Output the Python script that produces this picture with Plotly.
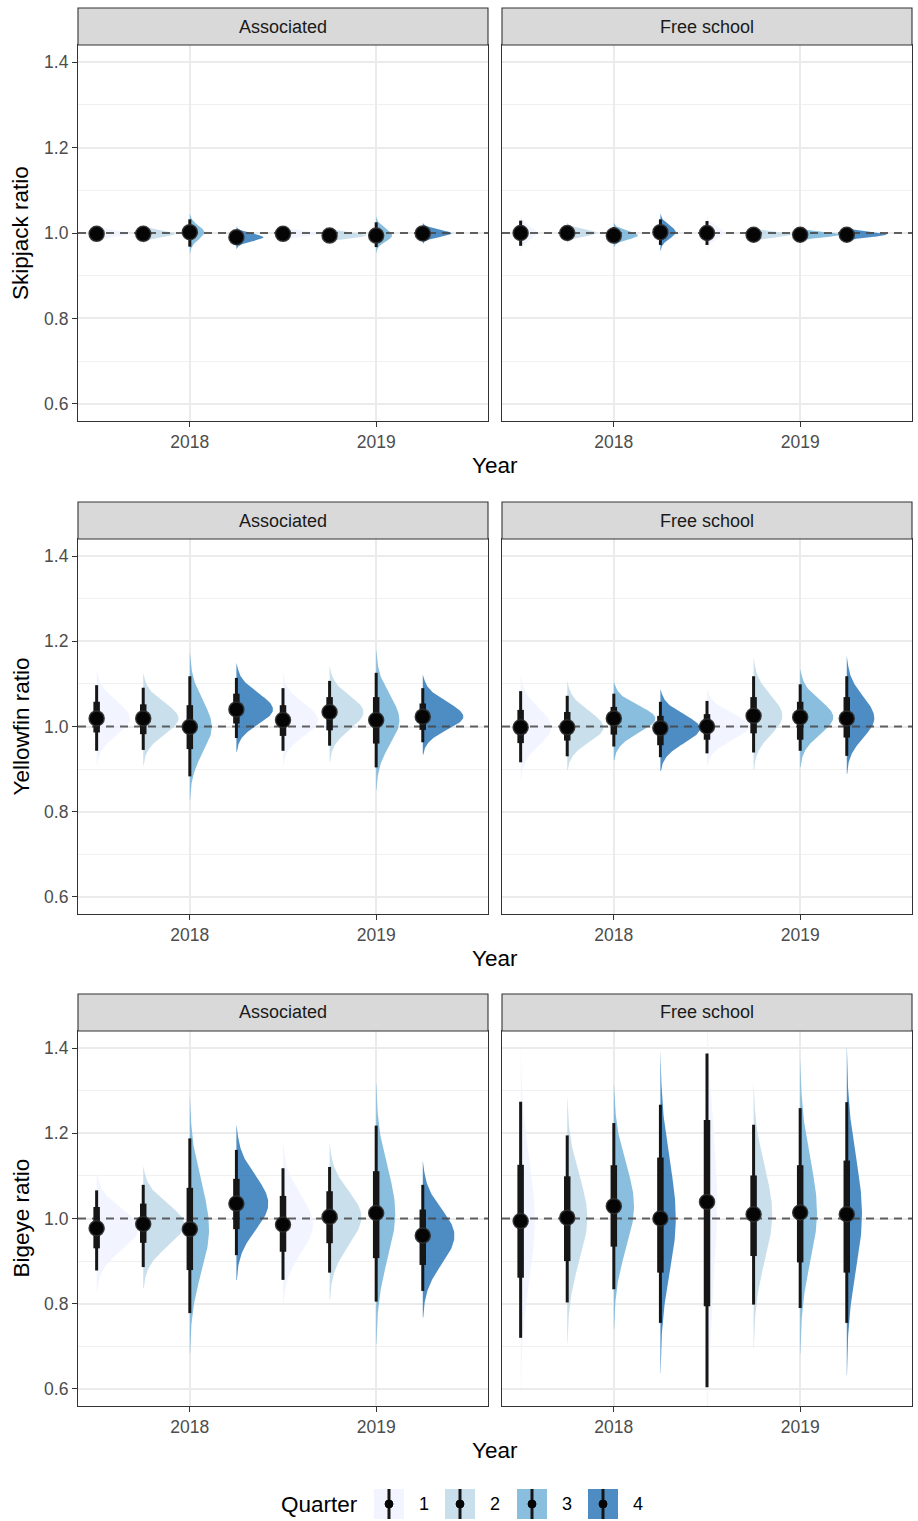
import numpy as np
import plotly.graph_objects as go

# ---------------- data ----------------
YEARS = [2018, 2018, 2018, 2018, 2019, 2019, 2019, 2019]
QUARTERS = [1, 2, 3, 4, 1, 2, 3, 4]
SPECIES = ["Skipjack", "Yellowfin", "Bigeye"]
SET_TYPES = ["Associated", "Free school"]
YTICKS = [0.6, 0.8, 1.0, 1.2, 1.4]
YTICK_LABELS = ["0.6", "0.8", "1.0", "1.2", "1.4"]
XTICKS = [2018, 2019]
XTICK_LABELS = ["2018", "2019"]
REF_RATIO = 1.0

# Skipjack - Associated
SKJ_ASSOC_MED = [0.998, 0.998, 1.002, 0.990, 0.998, 0.994, 0.994, 0.999]
SKJ_ASSOC_LO66 = [0.992, 0.991, 0.988, 0.983, 0.992, 0.989, 0.982, 0.993]
SKJ_ASSOC_HI66 = [1.004, 1.004, 1.016, 0.997, 1.004, 1.000, 1.008, 1.006]
SKJ_ASSOC_LO95 = [0.985, 0.983, 0.968, 0.972, 0.986, 0.982, 0.967, 0.983]
SKJ_ASSOC_HI95 = [1.012, 1.012, 1.032, 1.006, 1.011, 1.007, 1.025, 1.015]
# Skipjack - Free school
SKJ_FREE_MED = [1.000, 1.000, 0.994, 1.002, 1.000, 0.996, 0.996, 0.996]
SKJ_FREE_LO66 = [0.986, 0.993, 0.986, 0.990, 0.988, 0.991, 0.991, 0.991]
SKJ_FREE_HI66 = [1.014, 1.007, 1.003, 1.016, 1.012, 1.001, 1.001, 1.002]
SKJ_FREE_LO95 = [0.970, 0.985, 0.976, 0.972, 0.972, 0.984, 0.985, 0.985]
SKJ_FREE_HI95 = [1.029, 1.016, 1.014, 1.032, 1.028, 1.008, 1.007, 1.008]
# Yellowfin - Associated
YFT_ASSOC_MED = [1.019, 1.019, 0.999, 1.040, 1.015, 1.034, 1.015, 1.023]
YFT_ASSOC_LO66 = [0.986, 0.982, 0.947, 1.007, 0.978, 0.991, 0.960, 0.992]
YFT_ASSOC_HI66 = [1.058, 1.052, 1.050, 1.077, 1.050, 1.069, 1.069, 1.054]
YFT_ASSOC_LO95 = [0.943, 0.945, 0.883, 0.973, 0.943, 0.955, 0.904, 0.963]
YFT_ASSOC_HI95 = [1.097, 1.091, 1.118, 1.114, 1.090, 1.107, 1.126, 1.090]
# Yellowfin - Free school
YFT_FREE_MED = [0.998, 0.998, 1.019, 0.996, 1.000, 1.025, 1.022, 1.019]
YFT_FREE_LO66 = [0.961, 0.967, 0.981, 0.956, 0.969, 0.984, 0.969, 0.974]
YFT_FREE_HI66 = [1.039, 1.034, 1.046, 1.025, 1.029, 1.069, 1.058, 1.069]
YFT_FREE_LO95 = [0.916, 0.930, 0.953, 0.928, 0.937, 0.939, 0.943, 0.931]
YFT_FREE_HI95 = [1.083, 1.072, 1.077, 1.058, 1.060, 1.118, 1.099, 1.118]
# Bigeye - Associated
BET_ASSOC_MED = [0.977, 0.987, 0.975, 1.035, 0.986, 1.004, 1.013, 0.960]
BET_ASSOC_LO66 = [0.930, 0.943, 0.879, 0.975, 0.922, 0.942, 0.907, 0.891]
BET_ASSOC_HI66 = [1.027, 1.035, 1.072, 1.093, 1.053, 1.064, 1.111, 1.021]
BET_ASSOC_LO95 = [0.878, 0.886, 0.778, 0.914, 0.856, 0.873, 0.805, 0.830]
BET_ASSOC_HI95 = [1.066, 1.079, 1.188, 1.161, 1.118, 1.121, 1.218, 1.079]
# Bigeye - Free school
BET_FREE_MED = [0.994, 1.002, 1.029, 1.000, 1.039, 1.010, 1.014, 1.010]
BET_FREE_LO66 = [0.861, 0.900, 0.934, 0.873, 0.794, 0.912, 0.897, 0.873]
BET_FREE_HI66 = [1.126, 1.099, 1.125, 1.143, 1.231, 1.101, 1.125, 1.136]
BET_FREE_LO95 = [0.720, 0.803, 0.834, 0.755, 0.604, 0.798, 0.790, 0.755]
BET_FREE_HI95 = [1.274, 1.195, 1.224, 1.267, 1.387, 1.220, 1.259, 1.273]

PANELS = [
    [(SKJ_ASSOC_MED, SKJ_ASSOC_LO66, SKJ_ASSOC_HI66, SKJ_ASSOC_LO95, SKJ_ASSOC_HI95),
     (SKJ_FREE_MED, SKJ_FREE_LO66, SKJ_FREE_HI66, SKJ_FREE_LO95, SKJ_FREE_HI95)],
    [(YFT_ASSOC_MED, YFT_ASSOC_LO66, YFT_ASSOC_HI66, YFT_ASSOC_LO95, YFT_ASSOC_HI95),
     (YFT_FREE_MED, YFT_FREE_LO66, YFT_FREE_HI66, YFT_FREE_LO95, YFT_FREE_HI95)],
    [(BET_ASSOC_MED, BET_ASSOC_LO66, BET_ASSOC_HI66, BET_ASSOC_LO95, BET_ASSOC_HI95),
     (BET_FREE_MED, BET_FREE_LO66, BET_FREE_HI66, BET_FREE_LO95, BET_FREE_HI95)],
]

# ---------------- styling ----------------
W, H = 918, 1521
FONT = "Liberation Sans, Arial, sans-serif"
QCOLORS = [(239, 243, 255), (189, 215, 231), (107, 174, 214), (33, 113, 181)]
ALPHA = 0.8
XRANGE = [2017.4, 2019.6]
YRANGE = [0.56, 1.44]
SLAB_MAX = 0.9 * 0.25
TAIL = 2.9

PANEL_X = [(78, 488), (502, 912)]
PANEL_TOP = [45, 539, 1031]
PANEL_BOT = [421, 914, 1406]
STRIP_H = 37


def px(x):
    return x / W


def py(y):
    return 1 - y / H


def rgba(c, a):
    return f"rgba({c[0]},{c[1]},{c[2]},{a})"


xpos = [y + (q - 1) / 4 - 0.5 for y, q in zip(YEARS, QUARTERS)]


def slab(m, lo95, hi95):
    sl = (m - lo95) / 1.96
    su = (hi95 - m) / 1.96
    ys = np.linspace(m - TAIL * sl, m + TAIL * su, 121)
    sig = np.where(ys < m, sl, su)
    d = 2 / (np.sqrt(2 * np.pi) * (sl + su)) * np.exp(-0.5 * ((ys - m) / sig) ** 2)
    return ys, d


fig = go.Figure()
layout = dict(
    width=W, height=H, margin=dict(l=0, r=0, t=0, b=0),
    paper_bgcolor="white", plot_bgcolor="white", showlegend=False,
    font=dict(family=FONT),
)
shapes = []
annotations = []

for r in range(3):
    slabs = {}
    peak = 0
    for c in range(2):
        med, lo66, hi66, lo95, hi95 = PANELS[r][c]
        for i in range(8):
            ys, d = slab(med[i], lo95[i], hi95[i])
            slabs[(c, i)] = (ys, d)
            peak = max(peak, d.max())
    scale = SLAB_MAX / peak

    for c in range(2):
        k = r * 2 + c + 1
        xa = "x" if k == 1 else f"x{k}"
        ya = "y" if k == 1 else f"y{k}"
        med, lo66, hi66, lo95, hi95 = PANELS[r][c]

        for i in range(8):
            ys, d = slabs[(c, i)]
            x0 = xpos[i]
            xs = np.concatenate([x0 + d * scale, np.full(len(ys), x0)])
            yy = np.concatenate([ys, ys[::-1]])
            col = QCOLORS[QUARTERS[i] - 1]
            fig.add_trace(go.Scatter(
                x=xs, y=yy, xaxis=xa, yaxis=ya, mode="lines", fill="toself",
                fillcolor=rgba(col, ALPHA), line=dict(width=0), hoverinfo="skip"))

        fig.add_trace(go.Scatter(
            x=XRANGE, y=[REF_RATIO, REF_RATIO], xaxis=xa, yaxis=ya, mode="lines",
            line=dict(color="rgba(70,70,70,0.85)", width=1.8, dash="8px,6px"), hoverinfo="skip"))

        tx, ty = [], []
        for i in range(8):
            tx += [xpos[i], xpos[i], None]
            ty += [lo95[i], hi95[i], None]
        fig.add_trace(go.Scatter(x=tx, y=ty, xaxis=xa, yaxis=ya, mode="lines",
                                 line=dict(color="#161616", width=3), hoverinfo="skip"))
        tx, ty = [], []
        for i in range(8):
            tx += [xpos[i], xpos[i], None]
            ty += [lo66[i], hi66[i], None]
        fig.add_trace(go.Scatter(x=tx, y=ty, xaxis=xa, yaxis=ya, mode="lines",
                                 line=dict(color="#161616", width=6.5), hoverinfo="skip"))
        fig.add_trace(go.Scatter(x=xpos, y=med, xaxis=xa, yaxis=ya, mode="markers",
                                 marker=dict(color="#050505", size=15,
                                             line=dict(color="rgba(45,45,45,0.9)", width=1.5)),
                                 hoverinfo="skip"))

        x0p, x1p = PANEL_X[c]
        common = dict(showline=True, mirror=True, linecolor="#333333", linewidth=1.1,
                      zeroline=False, showgrid=True, gridcolor="#EBEBEB", fixedrange=True)
        layout["xaxis" if k == 1 else f"xaxis{k}"] = dict(
            domain=[px(x0p), px(x1p)], range=XRANGE, anchor=ya,
            tickvals=XTICKS, ticktext=XTICK_LABELS, gridwidth=2,
            ticks="outside", ticklen=5, tickwidth=1.1, tickcolor="#333333",
            tickfont=dict(size=17.5, color="#4D4D4D", family=FONT), **common)
        layout["yaxis" if k == 1 else f"yaxis{k}"] = dict(
            domain=[py(PANEL_BOT[r]), py(PANEL_TOP[r])], range=YRANGE, anchor=xa,
            tickvals=YTICKS, ticktext=YTICK_LABELS, gridwidth=2,
            minor=dict(tickvals=[0.7, 0.9, 1.1, 1.3], showgrid=True, gridcolor="#F0F0F0",
                       gridwidth=1.1, ticks=""),
            ticks="outside" if c == 0 else "", ticklen=5, tickwidth=1.1, tickcolor="#333333",
            showticklabels=(c == 0),
            tickfont=dict(size=17.5, color="#4D4D4D", family=FONT), **common)

        shapes.append(dict(type="rect", xref="paper", yref="paper",
                           x0=px(x0p), x1=px(x1p), y0=py(PANEL_TOP[r]), y1=py(PANEL_TOP[r] - STRIP_H),
                           fillcolor="#D9D9D9", line=dict(color="#333333", width=1.1), layer="above"))
        annotations.append(dict(text=SET_TYPES[c], xref="paper", yref="paper",
                                x=px((x0p + x1p) / 2), y=py(PANEL_TOP[r] - STRIP_H / 2),
                                showarrow=False, xanchor="center", yanchor="middle",
                                font=dict(size=18, color="#1A1A1A", family=FONT)))

    annotations.append(dict(text=f"{SPECIES[r]} ratio", xref="paper", yref="paper",
                            x=px(21), y=py((PANEL_TOP[r] + PANEL_BOT[r]) / 2), textangle=-90,
                            showarrow=False, xanchor="center", yanchor="middle",
                            font=dict(size=22.5, color="black", family=FONT)))
    annotations.append(dict(text="Year", xref="paper", yref="paper",
                            x=px(495), y=py(PANEL_BOT[r] + 44),
                            showarrow=False, xanchor="center", yanchor="middle",
                            font=dict(size=22.5, color="black", family=FONT)))

annotations.append(dict(text="Quarter", xref="paper", yref="paper", x=px(319), y=py(1504),
                        showarrow=False, xanchor="center", yanchor="middle",
                        font=dict(size=22.5, color="black", family=FONT)))
KEY_X = [374, 445, 517, 588]
for q in range(4):
    kx = KEY_X[q]
    shapes.append(dict(type="rect", xref="paper", yref="paper",
                       x0=px(kx), x1=px(kx + 30), y0=py(1519), y1=py(1489),
                       fillcolor=rgba(QCOLORS[q], ALPHA), line=dict(width=0)))
    shapes.append(dict(type="line", xref="paper", yref="paper",
                       x0=px(kx + 15), x1=px(kx + 15), y0=py(1519), y1=py(1489),
                       line=dict(color="#161616", width=3)))
    shapes.append(dict(type="circle", xref="paper", yref="paper",
                       x0=px(kx + 11), x1=px(kx + 19), y0=py(1508), y1=py(1500),
                       fillcolor="#050505", line=dict(color="#050505", width=1)))
    annotations.append(dict(text=str(QUARTERS[q]), xref="paper", yref="paper",
                            x=px(kx + 50), y=py(1504), showarrow=False,
                            xanchor="center", yanchor="middle",
                            font=dict(size=18, color="black", family=FONT)))

layout["shapes"] = shapes
layout["annotations"] = annotations
fig.update_layout(**layout)
fig.write_html("out.html", config={"displayModeBar": False},
               post_script="document.body.style.margin='0';document.body.style.overflow='hidden';")
